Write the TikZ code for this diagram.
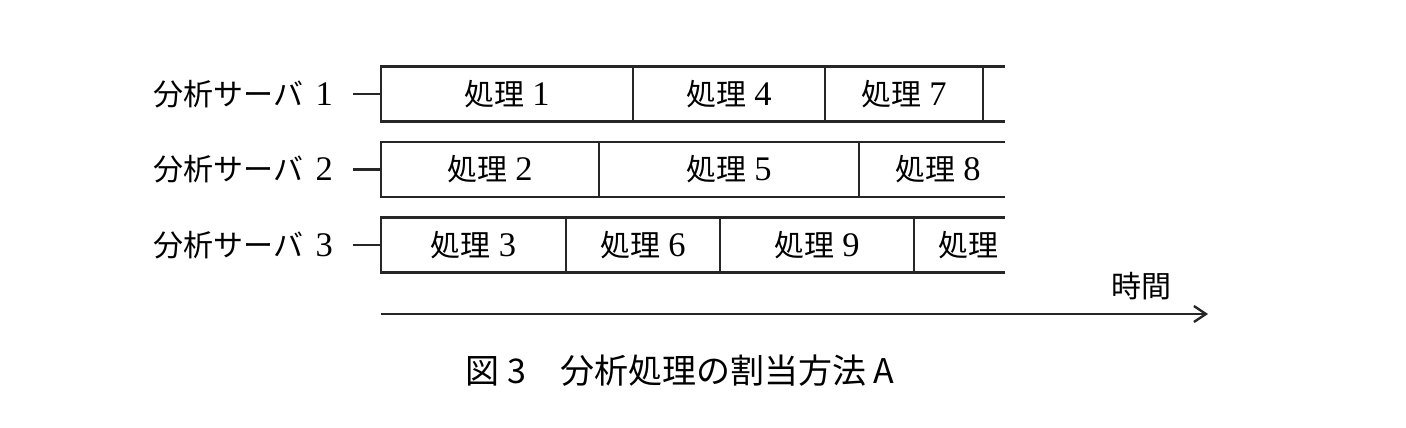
\documentclass[tikz,border=0pt]{standalone}
\usepackage{fontspec}
\setmainfont{Noto Sans CJK JP}
\newfontfamily\numfont[Scale=1.15]{Liberation Serif}
\usetikzlibrary{arrows.meta, positioning}
\newcommand{\jobno}[1]{処理\hspace{8pt}{\numfont #1}}

\begin{document}
\begin{tikzpicture}[x=1pt, y=-1pt, line width=2.3pt, node distance=0pt]
    \tikzstyle{job}=[draw=black!85, rectangle, inner sep=0pt, outer sep=0pt, minimum height=55pt, font=\fontsize{30}{30}\selectfont]
    \tikzstyle{jobend}=[job, draw=none]
    \tikzstyle{server}=[inner sep=0pt, anchor=east, font=\fontsize{30}{30}\selectfont]
    \useasboundingbox (0,0) rectangle (1406,428);

    % server 1
    \node (p1) [job, minimum width=252pt, anchor=west] at (381,94) {\jobno{1}};
    \node (p4) [job, minimum width=192pt, right=of p1] {\jobno{4}};
    \node (p7) [job, minimum width=158pt, right=of p4] {\jobno{7}};
    \node (end1) [jobend, minimum width=22pt, right=of p7] {};
    \draw [black!85] (end1.north west) -- (end1.north east) (end1.south west) -- (end1.south east);

    % server 2
    \node (p2) [job, minimum width=218pt, anchor=west] at (381,169.5) {\jobno{2}};
    \node (p5) [job, minimum width=260pt, right=of p2] {\jobno{5}};
    \node (p8) [jobend, minimum width=146pt, right=of p5] {\hspace{12pt}\jobno{8}};
    \draw [black!85] (p8.north west) -- (p8.north east) (p8.south west) -- (p8.south east);

    % server 3
    \node (p3) [job, minimum width=185pt, anchor=west] at (381,245) {\jobno{3}};
    \node (p6) [job, minimum width=154pt, right=of p3] {\jobno{6}};
    \node (p9) [job, minimum width=194pt, right=of p6] {\jobno{9}};
    \node (end3) [jobend, minimum width=91pt, right=of p9] {\hspace{18pt}処理};
    \draw [black!85] (end3.north west) -- (end3.north east) (end3.south west) -- (end3.south east);

    \node (s1) [server] at (334,94) {分析サーバ\hspace{12pt}{\numfont 1}};
    \node (s2) [server] at (334,169.5) {分析サーバ\hspace{12pt}{\numfont 2}};
    \node (s3) [server] at (334,245) {分析サーバ\hspace{12pt}{\numfont 3}};
    \draw [black!85, shorten <=19pt] (s1.east) -- (p1.west);
    \draw [black!85, shorten <=19pt] (s2.east) -- (p2.west);
    \draw [black!85, shorten <=19pt] (s3.east) -- (p3.west);

    % time axis
    \coordinate (timestart) at (381,314);
    \coordinate (timeend) at (1208,314);
    \draw [black!85, -{Straight Barb[length=12pt, width=16pt]}] (timestart) -- (timeend);
    \node (time) [font=\fontsize{30}{30}\selectfont] at (1141,286) {時間};

    \node (caption) [font=\fontsize{34}{34}\selectfont] at (680,371) {図 3　分析処理の割当方法 A};
\end{tikzpicture}
\end{document}
